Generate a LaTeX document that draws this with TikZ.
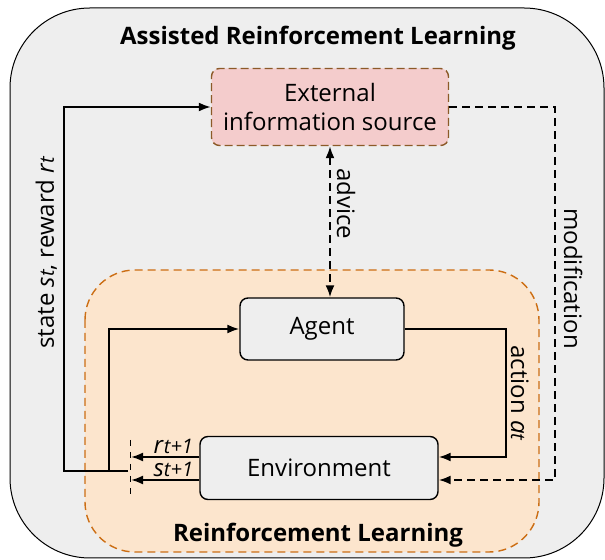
\documentclass[tikz,border=0pt]{standalone}
\usepackage{fontspec}
\setmainfont{Open Sans}
\usetikzlibrary{arrows.meta}
\definecolor{panelgray}{RGB}{238,238,238}
\definecolor{rlfill}{RGB}{252,229,205}
\definecolor{rlborder}{RGB}{204,110,20}
\definecolor{extfill}{RGB}{244,204,204}
\definecolor{extborder}{RGB}{140,90,40}
\newcommand{\sub}[1]{{\fontsize{10}{10}\selectfont\itshape #1}}

\begin{document}
\begin{tikzpicture}[x=0.5pt, y=-0.5pt, font=\fontsize{12}{14.5}\selectfont,
    box/.style={draw, rounded corners=4pt, fill=panelgray, line width=0.7pt, align=center},
    flow/.style={-{Latex[length=6pt,width=4.5pt]}, line width=1pt},
    dashflow/.style={flow, dash pattern=on 4pt off 2.5pt},
    vlabel/.style={anchor=south, rotate=-90, inner sep=2pt}]
    \useasboundingbox (0,0) rectangle (605,560);

    % Assisted RL panel
    \draw[fill=panelgray, line width=0.5pt, rounded corners=40pt] (10,8) rectangle (604,558);
    \node[font=\fontsize{12}{14.5}\bfseries] (arltitle) at (318,38) {Assisted Reinforcement Learning};

    % RL panel
    \draw[fill=rlfill, draw=rlborder, line width=0.7pt, dash pattern=on 4pt off 2.5pt,
          rounded corners=25pt] (85,270) rectangle (539,552);
    \node[font=\fontsize{12}{14.5}\bfseries] (rltitle) at (318,535) {Reinforcement Learning};

    % External information source
    \node[box, fill=extfill, draw=extborder, dash pattern=on 4pt off 2pt,
          minimum width=118.5pt, minimum height=38.5pt] (ext) at (330,107)
          {External\\information source};

    % Agent
    \node[box, minimum width=82pt, minimum height=31pt] (agent) at (322,329) {Agent};

    % Environment
    \node[box, minimum width=119pt, minimum height=31.5pt] (env) at (319,468) {Environment};

    % helper coordinates
    \coordinate (bar) at (131,468);
    \coordinate (fb) at (128,471);
    \coordinate (act) at (506,0);
    \coordinate (mod) at (555,0);

    % reward and state out of the environment
    \draw[dashed, line width=0.5pt] (130,440) -- (130,497);
    \draw[flow] ([yshift=5.5pt]env.west) -- ([yshift=5.5pt]env.west -| bar)
          node[pos=0.38, above, inner sep=1pt] {\textit{r}\sub{t+1}};
    \draw[flow] ([yshift=-6pt]env.west) -- ([yshift=-6pt]env.west -| bar)
          node[pos=0.38, above, inner sep=1pt] {\textit{s}\sub{t+1}};

    % feedback loops
    \draw[flow] (fb) -- (64,471) -- (64,107) node[pos=0.6, anchor=south, rotate=90, inner sep=3pt]
          {state \textit{s}\sub{t}, reward \textit{r}\sub{t}} -- (ext.west);
    \draw[flow] (109,471) |- (agent.west);

    % action
    \draw[flow] (agent.east) -- (agent.east -| act) -- ([yshift=5.5pt]env.east -| act)
          node[midway, vlabel] {action \textit{a}\sub{t}} -- ([yshift=5.5pt]env.east);

    % advice
    \draw[dashflow, {Latex[length=6pt,width=4.5pt]}-{Latex[length=6pt,width=4.5pt]}]
          (ext.south) -- (ext.south |- agent.north) node[pos=0.38, vlabel, inner sep=3pt] {advice};

    % modification
    \draw[dashflow] (ext.east) -- (ext.east -| mod) -- ([yshift=-6pt]env.east -| mod)
          node[pos=0.46, vlabel, inner sep=4pt] {modification} -- ([yshift=-6pt]env.east);
\end{tikzpicture}
\end{document}
